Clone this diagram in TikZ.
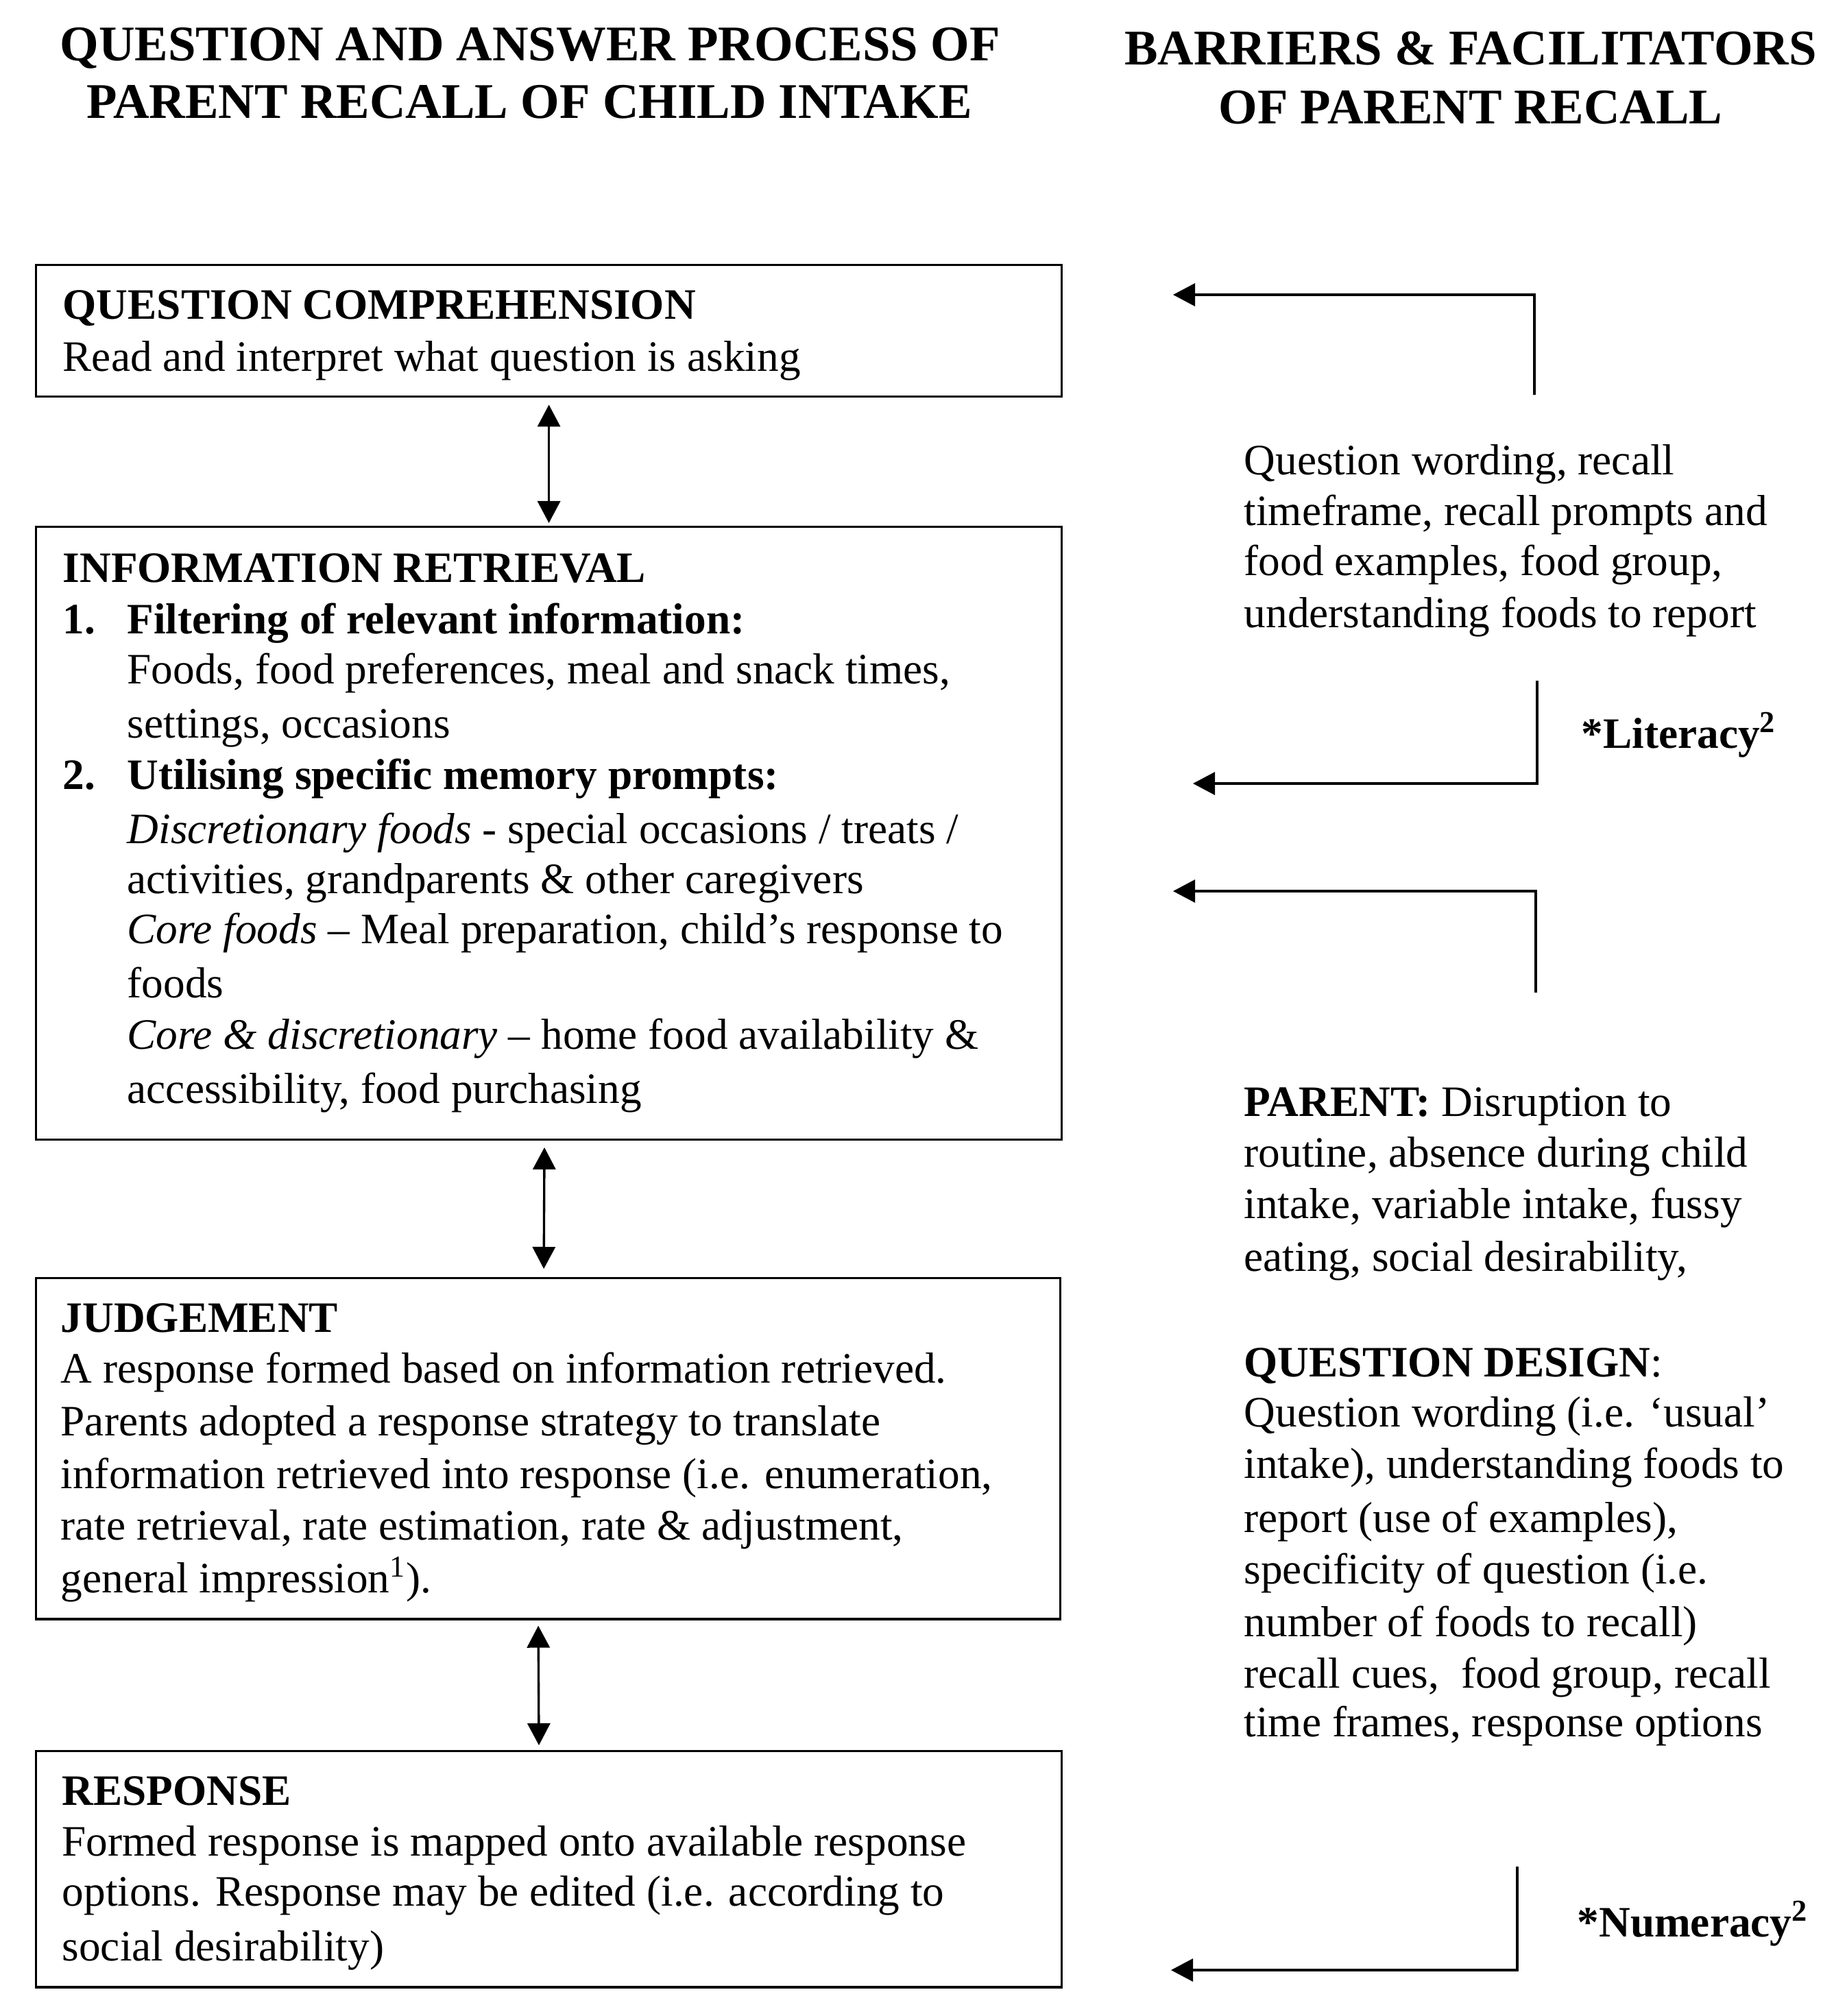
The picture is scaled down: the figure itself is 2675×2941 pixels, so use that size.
\documentclass[tikz,border=0pt]{standalone}
\usepackage{fontspec}
\setmainfont{Liberation Serif}
\usetikzlibrary{arrows.meta}
\newcommand{\bodyfont}{\fontsize{18}{21.5}\selectfont}
\newcommand{\titlefont}{\fontsize{20.7}{24}\selectfont\bfseries}
\tikzset{
  box/.style={draw, line width=0.95pt, inner sep=0pt, anchor=north west},
  txt/.style={anchor=base west, inner sep=0pt, font=\bodyfont},
  ttl/.style={anchor=base, inner sep=0pt, font=\titlefont},
  dbl/.style={line width=0.95pt, {Triangle[length=0.32cm,width=0.33cm]}-{Triangle[length=0.32cm,width=0.33cm]}},
  conn/.style={line width=0.95pt, -{Triangle[length=0.32cm,width=0.33cm]}},
}
\begin{document}
\begin{tikzpicture}[x=0.01cm, y=-0.01cm]
\useasboundingbox (0,0) rectangle (2675,2941);

% titles
\node[ttl] (tl1) at (773,88) {QUESTION AND ANSWER PROCESS OF};
\node[ttl] (tl2) at (772,172) {PARENT RECALL OF CHILD INTAKE};
\node[ttl] (tr1) at (2145,94) {BARRIERS \& FACILITATORS};
\node[ttl] (tr2) at (2145,180) {OF PARENT RECALL};

% boxes
\node[box, minimum width=14.95cm, minimum height=1.92cm] (b1) at (51,385) {};
\node[box, minimum width=14.95cm, minimum height=8.93cm] (b2) at (51,767) {};
\node[box, minimum width=14.93cm, minimum height=4.97cm] (b3) at (51,1863) {};
\node[box, minimum width=14.95cm, minimum height=3.44cm] (b4) at (51,2553) {};

% box 1 text
\node[txt] (q1) at (91,465) {\textbf{QUESTION COMPREHENSION}};
\node[txt] (q2) at (91,541) {Read and interpret what question is asking};

% box 2 text
\node[txt] (r1) at (91,849) {\textbf{INFORMATION RETRIEVAL}};
\node[txt] (r2n) at (91,924) {\textbf{1.}};
\node[txt] (r2) at (185,924) {\textbf{Filtering of relevant information:}};
\node[txt] (r3) at (185,997) {Foods, food preferences, meal and snack times,};
\node[txt] (r4) at (185,1076) {settings, occasions};
\node[txt] (r5n) at (91,1151) {\textbf{2.}};
\node[txt] (r5) at (185,1151) {\textbf{Utilising specific memory prompts:}};
\node[txt] (r6) at (185,1230) {\textit{Discretionary foods} - special occasions / treats /};
\node[txt] (r7) at (185,1303) {activities, grandparents \& other caregivers};
\node[txt] (r8) at (185,1376) {\textit{Core foods} – Meal preparation, child’s response to};
\node[txt] (r9) at (185,1455) {foods};
\node[txt] (r10) at (185,1530) {\textit{Core \& discretionary} – home food availability \&};
\node[txt] (r11) at (185,1609) {accessibility, food purchasing};

% box 3 text
\node[txt] (j1) at (88,1943) {\textbf{JUDGEMENT}};
\node[txt] (j2) at (88,2017) {A response formed based on information retrieved.};
\node[txt] (j3) at (88,2094) {Parents adopted a response strategy to translate};
\node[txt] (j4) at (88,2171) {information retrieved into response (i.e. enumeration,};
\node[txt] (j5) at (88,2246) {rate retrieval, rate estimation, rate \& adjustment,};
\node[txt] (j6) at (88,2323) {general impression\textsuperscript{1}).};

% box 4 text
\node[txt] (s1) at (90,2633) {\textbf{RESPONSE}};
\node[txt] (s2) at (90,2707) {Formed response is mapped onto available response};
\node[txt] (s3) at (90,2780) {options. Response may be edited (i.e. according to};
\node[txt] (s4) at (90,2860) {social desirability)};

% right block 1
\node[txt] (a1) at (1814,692) {Question wording, recall};
\node[txt] (a2) at (1814,766) {timeframe, recall prompts and};
\node[txt] (a3) at (1814,839) {food examples, food group,};
\node[txt] (a4) at (1814,915) {understanding foods to report};

% right block 2
\node[txt] (p1) at (1814,1628) {\textbf{PARENT:} Disruption to};
\node[txt] (p2) at (1814,1702) {routine, absence during child};
\node[txt] (p3) at (1814,1777) {intake, variable intake, fussy};
\node[txt] (p4) at (1814,1854) {eating, social desirability,};

% right block 3
\node[txt] (d1) at (1814,2008) {\textbf{QUESTION DESIGN}:};
\node[txt] (d2) at (1814,2081) {Question wording (i.e. ‘usual’};
\node[txt] (d3) at (1814,2156) {intake), understanding foods to};
\node[txt] (d4) at (1814,2235) {report (use of examples),};
\node[txt] (d5) at (1814,2310) {specificity of question (i.e.};
\node[txt] (d6) at (1814,2387) {number of foods to recall)};
\node[txt] (d7) at (1814,2462) {recall cues,\ \ food group, recall};
\node[txt] (d8) at (1814,2533) {time frames, response options};

% literacy / numeracy
\node[txt] (lit) at (2306,1091) {\textbf{*Literacy\textsuperscript{2}}};
\node[txt] (num) at (2300,2825) {\textbf{*Numeracy\textsuperscript{2}}};

% double arrows between boxes
\draw[dbl, shorten <=0.1cm, shorten >=0.04cm] (b1.south) -- (b2.north);
\draw[dbl, shorten <=0.1cm, shorten >=0.12cm] ([xshift=-0.065cm]b2.south) -- ([xshift=-0.065cm]b3.north);
\draw[dbl, shorten <=0.08cm, shorten >=0.07cm] ([xshift=-0.145cm]b3.south) -- ([xshift=-0.145cm]b4.north);

% right connectors
\coordinate (c1s) at (2238,576);
\coordinate (c1e) at (1711,430);
\coordinate (c2s) at (2242,993);
\coordinate (c2e) at (1740,1143);
\coordinate (c3s) at (2240,1448);
\coordinate (c3e) at (1711,1300);
\coordinate (c4s) at (2213,2723);
\coordinate (c4e) at (1708,2874);
\draw[conn] (c1s) |- (c1e);
\draw[conn] (c2s) |- (c2e);
\draw[conn] (c3s) |- (c3e);
\draw[conn] (c4s) |- (c4e);
\end{tikzpicture}
\end{document}
